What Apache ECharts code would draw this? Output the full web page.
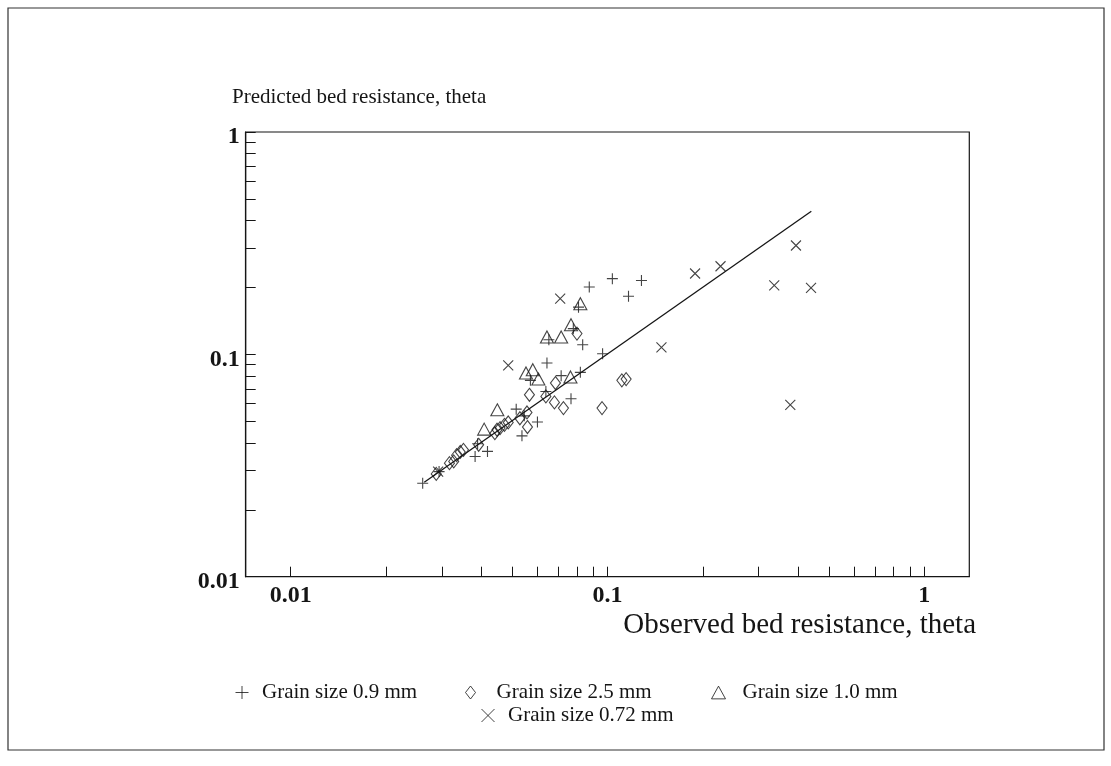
<!DOCTYPE html>
<html>
<head>
<meta charset="utf-8">
<script src="https://cdn.jsdelivr.net/npm/echarts@6/dist/echarts.min.js"></script>
<style>
html,body{margin:0;padding:0;background:#fff;}
#c{width:1111px;height:766px;}
</style>
</head>
<body>
<div id="c"></div>
<script>
// ---- data (observed theta, predicted theta) ----
const grain09 = [
  [0.0261,0.0263],[0.0294,0.0297],[0.0382,0.0347],[0.0418,0.0366],[0.0389,0.0396],
  [0.0537,0.0430],[0.0601,0.0496],[0.0515,0.0567],[0.0546,0.0529],[0.0767,0.0631],
  [0.0639,0.0681],[0.0821,0.0830],[0.0714,0.0802],[0.0571,0.0764],[0.0644,0.0914],
  [0.0965,0.1007],[0.0835,0.1105],[0.0876,0.201],[0.1036,0.219],[0.128,0.215],
  [0.1165,0.1825],[0.081,0.163],[0.078,0.1305],[0.0653,0.1164]
];
const grain25 = [
  [0.0288,0.0290],[0.0317,0.0324],[0.0327,0.0330],[0.0334,0.0352],[0.0343,0.0364],
  [0.0351,0.0372],[0.0392,0.0392],[0.0441,0.0442],[0.0458,0.0466],[0.0473,0.0482],
  [0.0486,0.0494],[0.0529,0.0516],[0.0557,0.0548],[0.0559,0.0471],[0.0567,0.0658],
  [0.0639,0.0647],[0.0680,0.0608],[0.0726,0.0573],[0.0685,0.0743],[0.0801,0.124],
  [0.0961,0.0573],[0.111,0.0764],[0.1145,0.0774],[0.0448,0.0458]
];
const grain10 = [
  [0.0821,0.169],[0.0767,0.136],[0.0644,0.1197],[0.0714,0.1197],[0.0553,0.0824],
  [0.0581,0.0853],[0.0605,0.0774],[0.0764,0.0791],[0.0449,0.0563],[0.0408,0.0461]
];
const grain072 = [
  [0.0709,0.178],[0.0486,0.0892],[0.189,0.231],[0.2274,0.249],[0.3935,0.3087],
  [0.336,0.2045],[0.439,0.199],[0.148,0.1075],[0.3776,0.0593],[0.0292,0.0297]
];
const fitLine = [[0.0264,0.0266],[0.44,0.44]];
const seriesNames = ['Grain size 0.9 mm','Grain size 2.5 mm','Grain size 1.0 mm','Grain size 0.72 mm'];
const tickValues = [0.01,0.02,0.03,0.04,0.05,0.06,0.07,0.08,0.09,0.1,0.2,0.3,0.4,0.5,0.6,0.7,0.8,0.9,1];
const labelValues = [0.01,0.1,1];
const axisTitleY = 'Predicted bed resistance, theta';
const axisTitleX = 'Observed bed resistance, theta';

const FONT = '"Liberation Serif", "DejaVu Serif", serif';
const INK = '#151515';
const PLUS = 'path://M5,0L5,10M0,5L10,5';
const CROSS = 'path://M0,0L10,10M10,0L0,10';
const DIAMOND = 'path://M5,0L10,6.5L5,13L0,6.5Z';
const TRIANGLE = 'path://M5.5,0L11,10L0,10Z';

const chart = echarts.init(document.getElementById('c'), null, {renderer:'canvas'});
const fmt = v => String(+Number(v).toPrecision(3));
const markerStyle = {color:'none', borderColor:INK, borderWidth:1.1};

function legendItem(name, left, top, pad){
  return {data:[name], left:left, top:top, itemWidth:14, itemHeight:13, selectedMode:false,
    itemStyle:{color:'none', borderColor:INK, borderWidth:1},
    textStyle:{fontFamily:FONT, fontSize:21, color:INK, padding:[0,0,0,pad]}};
}

chart.setOption({
  backgroundColor:'#fff',
  animation:false,
  graphic:[
    {type:'rect', shape:{x:8,y:8,width:1096,height:742}, style:{fill:'none', stroke:'#333', lineWidth:1.2}, silent:true},
    {type:'text', left:232, top:87, style:{text:axisTitleY, font:'21px '+FONT, fill:INK}},
    {type:'text', right:1111-976, top:611, style:{text:axisTitleX, font:'29px '+FONT, fill:INK}}
  ],
  grid:{left:245.7, right:141.7, top:132, bottom:189.3, show:true, borderColor:INK, borderWidth:1.2, backgroundColor:'transparent'},
  xAxis:{
    type:'log', logBase:10, min:0.00721, max:1.387,
    axisLine:{show:true, lineStyle:{color:INK, width:1.2}},
    axisTick:{show:true, inside:true, length:10, customValues:tickValues, lineStyle:{color:INK, width:1}},
    axisLabel:{show:true, customValues:labelValues, formatter:fmt, margin:7, color:INK, fontFamily:FONT, fontSize:24, fontWeight:'bold'},
    splitLine:{show:false}, minorTick:{show:false}
  },
  yAxis:{
    type:'log', logBase:10, min:0.01, max:1,
    axisLine:{show:true, lineStyle:{color:INK, width:1.2}},
    axisTick:{show:true, inside:true, length:10, customValues:tickValues, lineStyle:{color:INK, width:1}},
    axisLabel:{show:true, customValues:labelValues, formatter:fmt, margin:6, color:INK, fontFamily:FONT, fontSize:24, fontWeight:'bold', verticalAlign:'top', lineHeight:10},
    splitLine:{show:false}, minorTick:{show:false}
  },
  legend:[
    legendItem(seriesNames[0], 228, 677, 8),
    legendItem(seriesNames[1], 458, 677, 14),
    legendItem(seriesNames[2], 704, 677, 12),
    legendItem(seriesNames[3], 474, 700, 8)
  ],
  series:[
    {name:'fit', type:'line', data:fitLine, symbol:'none', lineStyle:{color:INK, width:1.3}, z:1},
    {name:seriesNames[0], type:'scatter', data:grain09, symbol:PLUS, symbolSize:11, itemStyle:markerStyle},
    {name:seriesNames[1], type:'scatter', data:grain25, symbol:DIAMOND, symbolSize:[10,13], itemStyle:markerStyle},
    {name:seriesNames[2], type:'scatter', data:grain10, symbol:TRIANGLE, symbolSize:[13,12], itemStyle:markerStyle},
    {name:seriesNames[3], type:'scatter', data:grain072, symbol:CROSS, symbolSize:10, itemStyle:markerStyle}
  ]
});
</script>
</body>
</html>
